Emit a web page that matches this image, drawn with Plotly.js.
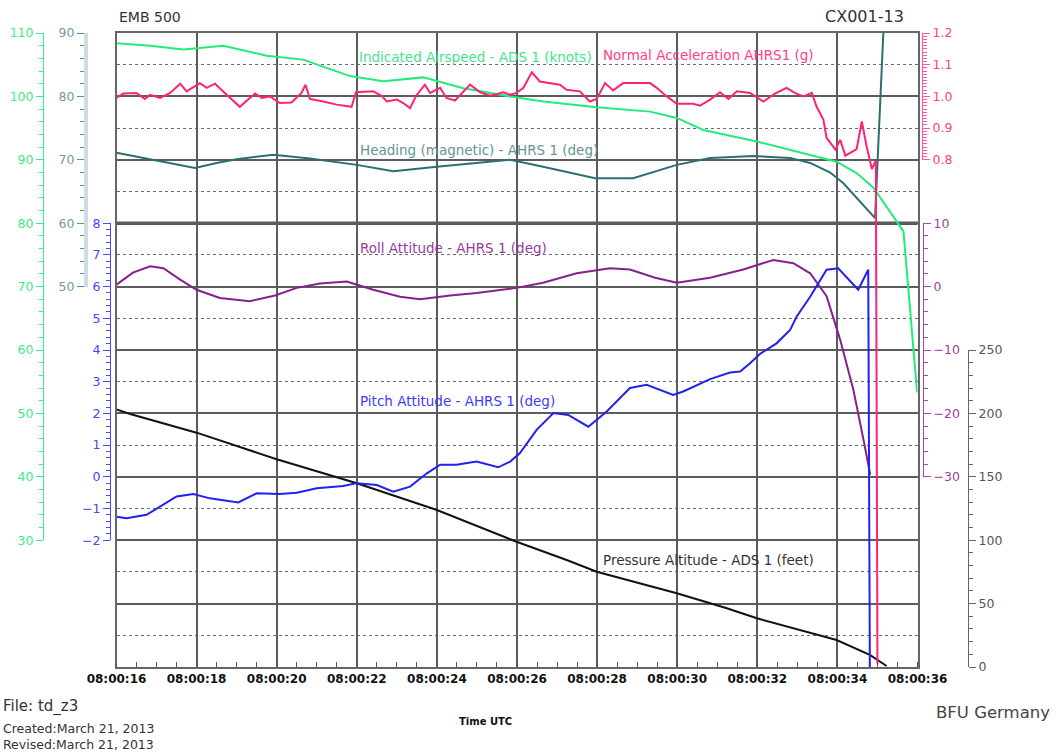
<!DOCTYPE html>
<html><head><meta charset="utf-8">
<script src="https://cdn.plot.ly/plotly-3.0.1.min.js"></script>
<style>html,body{margin:0;padding:0;background:#fff}#chart{width:1059px;height:752px}</style>
</head><body><div id="chart"></div>
<script>
// ---------- data (time in seconds after 08:00:00) ----------
const timeTickVals = [16,18,20,22,24,26,28,30,32,34,36];
const timeTickText = ['08:00:16','08:00:18','08:00:20','08:00:22','08:00:24','08:00:26','08:00:28','08:00:30','08:00:32','08:00:34','08:00:36'];

const iasT = [16.00,16.84,17.67,18.67,19.75,20.66,21.83,22.66,23.66,24.66,25.83,26.66,27.99,29.32,29.99,30.65,31.99,33.32,33.98,34.48,34.90,35.65,35.99];
const iasV = [108.4,108.0,107.4,108.0,106.4,105.8,103.2,102.4,103.0,101.3,100.0,99.2,98.3,97.6,96.6,94.7,92.9,90.8,89.7,87.9,85.6,78.7,53.3];

const accT = [16.00,16.17,16.50,16.71,16.84,17.09,17.34,17.59,17.75,18.08,18.25,18.46,18.75,19.08,19.46,19.63,19.83,20.08,20.37,20.62,20.72,20.83,21.16,21.50,21.87,21.98,22.41,22.62,22.75,23.00,23.16,23.33,23.48,23.70,23.83,24.08,24.24,24.45,24.83,25.08,25.33,25.66,25.83,25.99,26.16,26.37,26.57,27.07,27.24,27.57,27.82,27.99,28.20,28.40,28.65,29.32,29.49,29.74,29.99,30.40,30.57,30.82,31.07,31.28,31.49,31.82,32.15,32.44,32.73,32.94,33.15,33.36,33.48,33.65,33.73,33.95,34.07,34.20,34.48,34.61,34.73,34.86,34.96,35.00];
const accV = [0.995,1.009,1.011,0.992,1.005,0.995,1.011,1.040,1.016,1.042,1.027,1.040,1.005,0.967,1.009,0.995,1.000,0.979,0.981,1.011,1.037,0.992,0.984,0.974,0.967,1.013,1.016,1.002,0.984,0.990,0.979,0.963,1.002,1.037,1.011,1.027,0.995,0.987,1.037,1.013,1.002,1.013,1.005,1.011,1.027,1.076,1.047,1.037,1.021,1.016,0.984,0.992,1.042,1.019,1.042,1.042,1.027,1.000,0.977,0.977,0.971,0.990,1.013,0.992,1.016,1.011,0.984,1.009,1.027,1.011,1.000,1.011,0.968,0.927,0.869,0.832,0.863,0.813,0.834,0.921,0.842,0.771,0.798,-0.79];

const hdgT = [16.0,16.5,17.0,17.96,18.5,19.0,19.92,20.83,22.0,22.91,24.0,24.99,25.83,26.65,27.95,28.90,29.99,30.82,31.90,32.82,33.32,33.82,34.15,34.94,35.15,35.30];
const hdgV = [71.1,70.5,69.9,68.7,69.5,70.1,70.8,70.2,69.2,68.2,68.9,69.5,70.0,68.9,67.1,67.1,69.2,70.3,70.6,70.3,69.5,68.0,66.3,60.8,90.5,100];

const rollT = [16.0,16.41,16.84,17.17,17.59,18.0,18.58,19.33,19.96,20.5,21.08,21.75,22.41,23.08,23.58,24.33,24.99,25.99,26.65,27.49,28.32,28.82,29.45,29.99,30.82,31.65,32.40,32.90,33.32,33.73,34.07,34.40,34.65,34.82];
const rollV = [0.3,2.2,3.2,2.9,1.1,-0.5,-1.8,-2.3,-1.4,-0.2,0.5,0.8,-0.5,-1.6,-2.0,-1.4,-1.0,-0.2,0.6,2.1,2.9,2.7,1.4,0.6,1.4,2.7,4.2,3.7,2.1,-1.5,-8.4,-16.3,-24.1,-29.7];

const pitchT = [16.0,16.25,16.75,17.09,17.50,17.92,18.33,19.04,19.50,20.08,20.50,21.00,21.66,22.00,22.50,22.91,23.33,23.75,24.08,24.49,24.99,25.53,25.83,26.07,26.49,26.91,27.28,27.78,28.24,28.82,29.24,29.90,30.15,30.82,31.32,31.57,31.82,32.07,32.48,32.82,32.98,33.32,33.73,34.02,34.52,34.77,34.81];
const pitchV = [-1.26,-1.31,-1.20,-0.94,-0.62,-0.54,-0.68,-0.81,-0.52,-0.54,-0.50,-0.36,-0.29,-0.20,-0.26,-0.47,-0.31,0.11,0.38,0.38,0.48,0.30,0.48,0.74,1.48,2.01,1.95,1.58,2.06,2.80,2.90,2.58,2.69,3.08,3.29,3.32,3.58,3.88,4.21,4.63,5.05,5.68,6.53,6.58,5.90,6.53,-6.0];

const altT = [16.0,16.34,18.0,20.0,22.0,24.0,25.99,27.24,27.99,29.99,31.24,31.99,33.98,34.81,35.23];
const altV = [203.2,199.5,184.8,163.8,144.9,123.8,98.8,84.4,75.1,58.1,46.3,38.4,21.3,9.5,0.8];

// ---------- styling ----------
const FONT = 'DejaVu Sans, Verdana, sans-serif';
const W = 1059, H = 752, TOP = 33, BOT = 667, PH = BOT - TOP;
const GREEN = '#22ec78', PINK = '#ff2276', TEAL = '#2f6e70', PURPLE = '#87208c', BLUE = '#2121f2', BLACK = '#121212';
const GRID = '#5c5c5c';
const px = x => x / W;
const py = y => (BOT - y) / PH;

function dataAxis(range) {
  return {overlaying: 'y', range: range, visible: false, fixedrange: true, zeroline: false, showgrid: false};
}
function dispAxis(o) {
  return {
    domain: o.domain, range: o.range, anchor: 'free', position: o.pos, side: o.side,
    showgrid: false, zeroline: false, fixedrange: true,
    showline: true, linecolor: o.lineColor || o.color, linewidth: o.lineWidth || 1,
    ticks: 'outside', ticklen: 7, tickwidth: 1, tickcolor: o.color,
    tickmode: 'linear', tick0: o.tick0, dtick: o.dtick, tickformat: o.fmt || '',
    tickfont: {family: FONT, size: 12.5, color: o.labelColor},
    minor: {tickmode: 'linear', tick0: o.tick0, dtick: o.minor, ticks: 'outside', ticklen: 4, tickwidth: 1, tickcolor: o.color, showgrid: false}
  };
}

const traces = [
  {x: altT, y: altV, yaxis: 'y', mode: 'lines', line: {color: BLACK, width: 2}},
  {x: iasT, y: iasV, yaxis: 'y2', mode: 'lines', line: {color: GREEN, width: 2}},
  {x: hdgT, y: hdgV, yaxis: 'y3', mode: 'lines', line: {color: TEAL, width: 2}},
  {x: rollT, y: rollV, yaxis: 'y5', mode: 'lines', line: {color: PURPLE, width: 2}},
  {x: pitchT, y: pitchV, yaxis: 'y6', mode: 'lines', line: {color: BLUE, width: 2}},
  {x: accT, y: accV, yaxis: 'y4', mode: 'lines', line: {color: PINK, width: 2}}
];
['y7','y8','y9','y10','y11','y12'].forEach(a => traces.push({x: [], y: [], xaxis: 'x2', yaxis: a, mode: 'lines'}));
traces.forEach(t => { t.type = 'scatter'; t.showlegend = false; t.hoverinfo = 'skip'; });

const xDom = [116.5 / W, 917.5 / W];

function ann(text, x, y, color, size, anchor, extra) {
  return Object.assign({text: text, xref: 'paper', yref: 'paper', x: px(x), y: py(y), xanchor: anchor || 'left', yanchor: 'middle',
    showarrow: false, font: {family: FONT, size: size, color: color}}, extra || {});
}

const layout = {
  width: W, height: H, margin: {l: 0, r: 0, t: TOP, b: H - BOT, autoexpand: false},
  paper_bgcolor: '#ffffff', plot_bgcolor: 'rgba(0,0,0,0)', showlegend: false,
  xaxis: {domain: xDom, range: [16, 36], tickmode: 'array', tickvals: timeTickVals, ticktext: timeTickText,
    ticks: '', showgrid: true, gridcolor: GRID, gridwidth: 2, zeroline: false, fixedrange: true,
    showline: true, mirror: true, linecolor: '#666666', linewidth: 2,
    tickfont: {family: FONT, size: 12, color: '#111111', weight: 'bold'},
    minor: {tickmode: 'linear', tick0: 16, dtick: 0.5, ticks: 'inside', ticklen: 5, tickwidth: 1, tickcolor: '#555555', showgrid: false}},
  xaxis2: {domain: xDom, range: [16, 36], anchor: 'free', position: 0, visible: false, fixedrange: true},
  yaxis: {domain: [0, 1], range: [0, 500], tickmode: 'linear', tick0: 0, dtick: 50, showticklabels: false, ticks: '',
    showgrid: true, gridcolor: GRID, gridwidth: 2, zeroline: false, fixedrange: true,
    showline: true, mirror: true, linecolor: '#666666', linewidth: 2,
    minor: {tickmode: 'linear', tick0: 25, dtick: 50, showgrid: true, griddash: '3px,3px', gridcolor: '#6a6a6a', gridwidth: 1, ticks: ''}},
  yaxis2: dataAxis([10, 110]),
  yaxis3: dataAxis([-10, 90]),
  yaxis4: dataAxis([-0.8, 1.2]),
  yaxis5: dataAxis([-60, 40]),
  yaxis6: dataAxis([-6, 14]),
  // visible scales
  yaxis7: dispAxis({domain: [0.2, 1], range: [30, 110], pos: px(43), side: 'left', tick0: 0, dtick: 10, minor: 2, color: '#3be88a', labelColor: '#3fe68c'}),
  yaxis8: dispAxis({domain: [0.6, 1], range: [50, 90], pos: px(86), side: 'left', tick0: 0, dtick: 10, minor: 2, color: '#5f8f90', labelColor: '#6f9c9c', lineColor: '#cadee1', lineWidth: 4}),
  yaxis9: dispAxis({domain: [0.2, 0.7], range: [-2, 8], pos: px(110), side: 'left', tick0: 0, dtick: 1, minor: 0.2, color: '#4a4aff', labelColor: '#4444ff'}),
  yaxis10: dispAxis({domain: [0.8, 1], range: [0.8, 1.2], pos: px(922), side: 'right', tick0: 0, dtick: 0.1, minor: 0.01, fmt: '.1f', color: '#ff5aa0', labelColor: '#ff3d8c'}),
  yaxis11: dispAxis({domain: [0.3, 0.7], range: [-30, 10], pos: px(923), side: 'right', tick0: 0, dtick: 10, minor: 2, color: '#a447a8', labelColor: '#a040a6'}),
  yaxis12: dispAxis({domain: [0, 0.5], range: [0, 250], pos: px(968), side: 'right', tick0: 0, dtick: 50, minor: 10, color: '#666666', labelColor: '#555555'}),
  shapes: [
    {type: 'line', xref: 'x domain', yref: 'y', x0: 0, x1: 1, y0: 350, y1: 350, line: {color: '#555555', width: 3.5}, layer: 'below'}
  ],
  annotations: [
    ann('EMB 500', 117, 17, '#333333', 14),
    ann('CX001-13', 906, 17, '#333333', 16),
    ann('Indicated Airspeed - ADS 1 (knots)', 357, 57, '#3fe68c', 13.5),
    ann('Normal Acceleration AHRS1 (g)', 601, 55, '#ff3d8c', 13.5),
    ann('Heading (magnetic) - AHRS 1 (deg)', 358, 150, '#5f9596', 13.5),
    ann('Roll Attitude - AHRS 1 (deg)', 358, 248, '#9a3a9e', 13.5),
    ann('Pitch Attitude - AHRS 1 (deg)', 358, 401, '#3b3bff', 13.5),
    ann('Pressure Altitude - ADS 1 (feet)', 601, 560, '#333333', 13.5),
    ann('File: td_z3', 1, 706, '#333333', 15),
    ann('Created:March 21, 2013', 1, 728, '#333333', 12.5),
    ann('Revised:March 21, 2013', 1, 744, '#333333', 12.5),
    ann('Time UTC', 485, 721, '#111111', 10, 'center', {font: {family: FONT, size: 10, color: '#111111', weight: 'bold'}}),
    ann('BFU Germany', 1052, 712, '#444444', 16.5, 'right')
  ]
};
layout.annotations[1].xanchor = 'right';

Plotly.newPlot('chart', traces, layout, {displayModeBar: false, staticPlot: true});
</script>
</body></html>
